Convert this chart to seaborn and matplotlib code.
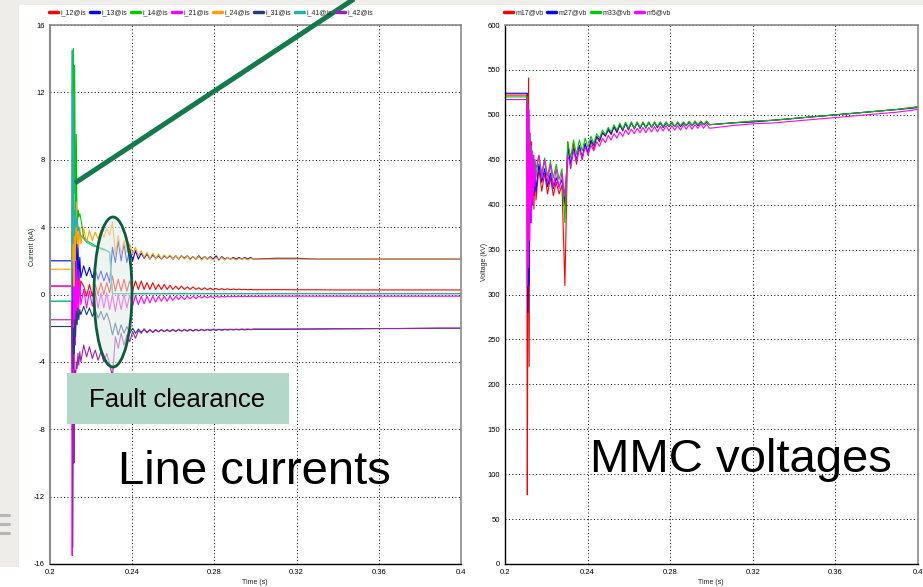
"""
Line currents and MMC voltages during a DC fault, redrawn from a slide.
"""

import matplotlib
matplotlib.use("Agg")
import matplotlib.pyplot as plt
from matplotlib.lines import Line2D
from matplotlib.patches import Ellipse, Rectangle
import pandas as pd
import seaborn as sns

W, H = 923, 587

# shared time base (s): steady state, fault transient, ripple, tail
TIME = [
    0.2, 0.2105, 0.2108, 0.2111, 0.2114, 0.2117, 0.212, 0.2124, 0.2128, 0.2132, 0.2136, 0.214, 0.2145, 0.215,
    0.2164, 0.2178, 0.2192, 0.2206, 0.222, 0.2234, 0.2248, 0.2262, 0.2276, 0.229,
    0.2304, 0.2318, 0.2332, 0.2346, 0.236, 0.2374, 0.2388, 0.2402, 0.2416, 0.243,
    0.2444, 0.2458, 0.2472, 0.2486, 0.25, 0.2514, 0.2528, 0.2542, 0.2556, 0.257,
    0.2584, 0.2598, 0.2612, 0.2626, 0.264, 0.2654, 0.2668, 0.2682, 0.2696, 0.271,
    0.2724, 0.2738, 0.2752, 0.2766, 0.278, 0.2794, 0.2808, 0.2822, 0.2836, 0.285,
    0.2864, 0.2878, 0.2892, 0.2906, 0.292, 0.2934, 0.2948, 0.2962, 0.2976, 0.299,
    0.31, 0.32, 0.33, 0.34, 0.35, 0.36, 0.37, 0.38, 0.39, 0.4,
]

# line currents (kA)
I_12 = [
    0.5, 0.5, -2.0, -5.5, -7.0, 3.5, -3.0, 2.0, -1.5, 1.5, -0.5, 1.2, 0.0, 0.8,
    0.5, -0.1, 0.6, -0.1, 0.6, 0.0, 0.7, 0.0, 0.7, 0.1,
    1.1, 0.2, 0.9, 0.2, 0.9, 0.2, 0.8, 0.2, 0.8, 0.3,
    0.8, 0.3, 0.7, 0.3, 0.7, 0.3, 0.6, 0.3, 0.6, 0.3,
    0.55, 0.3, 0.5, 0.3, 0.5, 0.3, 0.45, 0.3, 0.45, 0.3,
    0.4, 0.28, 0.4, 0.28, 0.38, 0.28, 0.36, 0.28, 0.35, 0.28,
    0.34, 0.28, 0.33, 0.28, 0.32, 0.28, 0.31, 0.28, 0.3, 0.28,
    0.29, 0.28, 0.28, 0.27, 0.27, 0.27, 0.27, 0.27, 0.27, 0.27,
]
I_13 = [
    2.0, 2.0, -1.0, -3.0, 4.5, -2.5, 4.0, -1.0, 3.5, 0.5, 3.0, 0.8, 2.2, 1.0,
    1.7, 1.1, 1.6, 1.0, 1.5, 0.9, 1.4, 0.8, 1.3, 0.7,
    2.8, 1.9, 3.2, 2.0, 3.0, 1.9, 2.7, 2.0, 2.6, 2.1,
    2.45, 2.15, 2.4, 2.1, 2.35, 2.15, 2.3, 2.1, 2.3, 2.15,
    2.3, 2.1, 2.3, 2.1, 2.3, 2.15, 2.3, 2.1, 2.25, 2.1,
    2.3, 2.1, 2.25, 2.1, 2.25, 2.1, 2.3, 2.05, 2.25, 2.1,
    2.2, 2.1, 2.2, 2.1, 2.2, 2.1, 2.2, 2.1, 2.2, 2.1,
    2.15, 2.15, 2.1, 2.1, 2.1, 2.1, 2.1, 2.1, 2.1, 2.1,
]
I_14 = [
    -0.4, -0.4, 3.0, 8.0, 14.6, 6.0, 13.6, 4.0, 9.5, 3.5, 5.0, 4.6, 4.8, 4.5,
    3.4, 3.2, 3.1, 3.0, 2.9, 2.8, 2.75, 2.7, 2.6, 2.5,
    0.05, 0.05, 0.05, 0.05, 0.05, 0.05, 0.05, 0.05, 0.05, 0.05,
    0.05, 0.05, 0.05, 0.05, 0.05, 0.05, 0.05, 0.05, 0.05, 0.05,
    0.05, 0.05, 0.05, 0.05, 0.05, 0.05, 0.05, 0.05, 0.05, 0.05,
    0.05, 0.05, 0.05, 0.05, 0.05, 0.05, 0.05, 0.05, 0.05, 0.05,
    0.05, 0.05, 0.05, 0.05, 0.05, 0.05, 0.05, 0.05, 0.05, 0.05,
    0.05, 0.05, 0.05, 0.05, 0.05, 0.05, 0.05, 0.05, 0.05, 0.05,
]
I_21 = [
    0.5, 0.5, -15.5, -4.0, 1.0, -9.0, 2.5, -3.0, 2.0, -1.5, 1.5, -1.0, 0.8, -0.6,
    0.3, -0.8, 0.2, -0.7, 0.2, -0.8, 0.1, -0.8, 0.1, -0.9,
    0.0, -1.0, 0.0, -0.9, 0.0, -0.8, -0.05, -0.7, -0.05, -0.6,
    -0.1, -0.55, -0.1, -0.5, -0.1, -0.45, -0.1, -0.4, -0.1, -0.4,
    -0.1, -0.35, -0.1, -0.3, -0.1, -0.3, -0.1, -0.25, -0.1, -0.25,
    -0.1, -0.2, -0.1, -0.2, -0.1, -0.18, -0.1, -0.16, -0.1, -0.15,
    -0.1, -0.14, -0.1, -0.13, -0.1, -0.12, -0.1, -0.12, -0.1, -0.11,
    -0.1, -0.1, -0.1, -0.1, -0.1, -0.1, -0.1, -0.1, -0.1, -0.1,
]
I_24 = [
    1.5, 1.5, 12.5, 2.0, 7.3, 0.5, 5.0, 2.0, 5.5, 3.0, 4.2, 2.8, 4.0, 3.0,
    3.9, 3.1, 3.8, 3.2, 3.7, 3.3, 3.8, 3.4, 3.9, 3.5,
    4.3, 2.4, 3.5, 2.4, 3.2, 2.5, 3.0, 2.4, 2.8, 2.3,
    2.6, 2.2, 2.5, 2.1, 2.45, 2.1, 2.4, 2.1, 2.35, 2.15,
    2.35, 2.1, 2.3, 2.1, 2.3, 2.1, 2.3, 2.05, 2.25, 2.1,
    2.25, 2.05, 2.25, 2.1, 2.2, 2.05, 2.2, 2.1, 2.2, 2.05,
    2.2, 2.1, 2.15, 2.05, 2.15, 2.1, 2.15, 2.05, 2.15, 2.1,
    2.1, 2.1, 2.1, 2.1, 2.1, 2.1, 2.1, 2.1, 2.1, 2.1,
]
I_31 = [
    -1.9, -1.9, -3.0, -4.4, -2.0, -3.5, -1.5, -2.5, -1.0, -1.8, -0.8, -1.5, -0.9, -1.2,
    -0.7, -1.2, -0.8, -1.3, -0.9, -1.4, -1.0, -1.5, -1.1, -1.6,
    -2.4, -1.7, -2.4, -1.8, -2.3, -1.9, -2.3, -2.0, -2.3, -2.05,
    -2.25, -2.05, -2.25, -2.1, -2.25, -2.1, -2.2, -2.1, -2.2, -2.1,
    -2.2, -2.08, -2.2, -2.08, -2.18, -2.08, -2.18, -2.08, -2.17, -2.08,
    -2.16, -2.08, -2.15, -2.08, -2.14, -2.08, -2.13, -2.08, -2.12, -2.08,
    -2.11, -2.08, -2.1, -2.08, -2.1, -2.07, -2.1, -2.07, -2.09, -2.07,
    -2.07, -2.06, -2.05, -2.04, -2.03, -2.02, -2.02, -2.01, -2.0, -2.0,
]
I_41 = [
    -0.4, -0.4, 14.5, 3.0, 12.0, 5.9, 3.5, 5.0, 4.0, 4.5, 3.8, 4.0, 3.7, 3.5,
    3.3, 3.1, 3.0, 2.9, 2.85, 2.8, 2.7, 2.65, 2.6, 2.5,
    0.05, 0.05, 0.05, 0.05, 0.05, 0.05, 0.05, 0.05, 0.05, 0.05,
    0.05, 0.05, 0.05, 0.05, 0.05, 0.05, 0.05, 0.05, 0.05, 0.05,
    0.05, 0.05, 0.05, 0.05, 0.05, 0.05, 0.05, 0.05, 0.05, 0.05,
    0.05, 0.05, 0.05, 0.05, 0.05, 0.05, 0.05, 0.05, 0.05, 0.05,
    0.05, 0.05, 0.05, 0.05, 0.05, 0.05, 0.05, 0.05, 0.05, 0.05,
    0.05, 0.05, 0.05, 0.05, 0.05, 0.05, 0.05, 0.05, 0.05, 0.05,
]
I_42 = [
    -1.5, -1.5, -4.0, -15.0, -6.0, -10.0, -4.5, -5.0, -4.0, -4.4, -3.5, -4.2, -3.4, -4.0,
    -3.0, -3.7, -3.1, -3.8, -3.3, -3.9, -3.4, -4.0, -3.5, -4.1,
    -4.9, -2.5, -3.2, -2.3, -3.0, -2.4, -2.8, -2.2, -2.6, -2.15,
    -2.3, -2.05, -2.28, -2.08, -2.25, -2.08, -2.22, -2.08, -2.2, -2.08,
    -2.19, -2.07, -2.18, -2.07, -2.17, -2.07, -2.16, -2.07, -2.15, -2.07,
    -2.14, -2.07, -2.13, -2.07, -2.12, -2.06, -2.11, -2.06, -2.1, -2.06,
    -2.09, -2.06, -2.08, -2.06, -2.08, -2.05, -2.07, -2.05, -2.07, -2.05,
    -2.05, -2.05, -2.04, -2.03, -2.03, -2.02, -2.02, -2.01, -2.0, -2.0,
]

# MMC voltages (kV)
M17 = [
    522, 522, 77, 320, 541, 220, 480, 390, 470, 400, 455, 395, 450, 405,
    440, 415, 435, 412, 430, 410, 425, 412, 422, 310,
    470, 440, 468, 445, 465, 450, 468, 455, 470, 462,
    475, 470, 480, 476, 483, 478, 487, 480, 489, 482,
    491, 483, 492, 484, 492, 485, 492, 485, 492, 486,
    492, 486, 492, 486, 492, 487, 492, 487, 492, 487,
    492, 488, 492, 488, 493, 488, 493, 489, 493, 489,
    491, 493, 494, 496, 498, 500, 502, 504, 506, 509,
]
M27 = [
    524, 524, 524, 280, 500, 310, 470, 380, 460, 400, 450, 410, 445, 415,
    445, 425, 440, 420, 435, 418, 430, 420, 428, 400,
    465, 445, 462, 450, 466, 452, 468, 458, 472, 466,
    476, 472, 480, 477, 484, 479, 487, 481, 489, 483,
    490, 484, 491, 485, 491, 485, 491, 486, 491, 486,
    491, 486, 491, 486, 491, 487, 491, 487, 491, 487,
    491, 488, 492, 488, 492, 488, 492, 489, 492, 489,
    491, 492, 494, 496, 498, 500, 502, 504, 506, 508,
]
M33 = [
    520, 520, 520, 380, 505, 395, 480, 400, 465, 420, 455, 425, 450, 430,
    455, 435, 452, 432, 448, 430, 445, 428, 440, 380,
    470, 452, 472, 456, 472, 460, 474, 464, 476, 468,
    479, 474, 483, 478, 486, 481, 489, 483, 491, 484,
    492, 485, 492, 485, 492, 486, 492, 486, 492, 486,
    492, 487, 492, 487, 492, 487, 492, 487, 492, 488,
    492, 488, 493, 488, 493, 489, 493, 489, 493, 489,
    491, 493, 494, 496, 498, 500, 502, 504, 506, 509,
]
M5 = [
    517, 517, 310, 512, 330, 505, 360, 470, 380, 460, 400, 455, 420, 440,
    455, 430, 450, 425, 445, 420, 440, 418, 435, 410,
    455, 442, 460, 448, 462, 452, 464, 456, 466, 460,
    470, 465, 474, 469, 477, 472, 479, 474, 481, 476,
    483, 478, 484, 479, 485, 480, 486, 480, 486, 481,
    487, 481, 487, 482, 488, 482, 488, 483, 488, 483,
    489, 484, 489, 484, 489, 485, 490, 485, 490, 485,
    488, 490, 491, 493, 495, 497, 499, 501, 503, 506,
]

CURRENTS = {
    "i_12@is": I_12, "i_13@is": I_13, "i_14@is": I_14, "i_21@is": I_21,
    "i_24@is": I_24, "i_31@is": I_31, "i_41@is": I_41, "i_42@is": I_42,
}
VOLTAGES = {"m17@vb": M17, "m27@vb": M27, "m33@vb": M33, "m5@vb": M5}

CUR_COLORS = {
    "i_12@is": "#ff0000", "i_13@is": "#0000ff", "i_14@is": "#00c800",
    "i_21@is": "#ff00ff", "i_24@is": "#ffa000", "i_31@is": "#1f3f7a",
    "i_41@is": "#20b2aa", "i_42@is": "#a020b0",
}
VOLT_COLORS = {"m17@vb": "#ff0000", "m27@vb": "#0000ff",
               "m33@vb": "#00c800", "m5@vb": "#ff00ff"}

X_TICKS = [0.2, 0.24, 0.28, 0.32, 0.36, 0.4]
X_LABELS = ["0.2", "0.24", "0.28", "0.32", "0.36", "0.4"]
CUR_TICKS = [-16, -12, -8, -4, 0, 4, 8, 12, 16]
VOLT_TICKS = [0, 50, 100, 150, 200, 250, 300, 350, 400, 450, 500, 550, 600]

sns.set_style("white")
plt.rcParams["font.family"] = ["Liberation Sans", "DejaVu Sans"]


def long_form(series):
    parts = [pd.DataFrame({"t": TIME, "value": v, "series": k}) for k, v in series.items()]
    return pd.concat(parts, ignore_index=True)


def fx(px):
    return px / W


def fy(py):
    return 1 - py / H


def style_axes(ax, yticks, ylim):
    ax.set_xlim(0.2, 0.4)
    ax.set_ylim(*ylim)
    ax.set_xticks(X_TICKS)
    ax.set_xticklabels(X_LABELS)
    ax.set_yticks(yticks)
    ax.set_yticklabels([str(v) for v in yticks])
    ax.grid(True, color="black", linestyle=(0, (1, 2.5)), linewidth=0.7)
    ax.tick_params(direction="inout", length=4, width=0.7, labelsize=5.5,
                   colors="black", pad=1.5)
    ax.set_xlabel("")
    ax.set_ylabel("")
    for side in ("right", "top"):
        ax.spines[side].set_color("#8a8a8a")
        ax.spines[side].set_linewidth(1.2)
    ax.spines["bottom"].set_color("black")
    ax.spines["bottom"].set_linewidth(1.0)


def add_legend(fig, names, colors, x0):
    handles = [Line2D([], [], color=colors[n], lw=2.5) for n in names]
    fig.legend(handles, names, loc="center left", bbox_to_anchor=(fx(x0), fy(13)),
               ncol=len(names), frameon=False, fontsize=5, handlelength=1.3,
               handletextpad=0.35, columnspacing=0.55, borderaxespad=0,
               borderpad=0)


fig = plt.figure(figsize=(W / 100, H / 100), dpi=100)
fig.patch.set_facecolor("white")

# slide background strips
fig.patches.append(Rectangle((0, fy(567)), fx(19), 567 / H, transform=fig.transFigure,
                             facecolor="#eeede9", edgecolor="none", zorder=0))
fig.patches.append(Rectangle((0, fy(5)), 1, 5 / H, transform=fig.transFigure,
                             facecolor="#eeede9", edgecolor="none", zorder=0))
for py in (515, 524, 533):
    fig.add_artist(Line2D([0, fx(9)], [fy(py), fy(py)], color="#b5b5b5", lw=2.2))

ax1 = fig.add_axes([fx(50), fy(564), fx(461) - fx(50), fy(25) - fy(564)])
ax2 = fig.add_axes([fx(505), fy(564), fx(918) - fx(505), fy(25) - fy(564)])

sns.lineplot(data=long_form(CURRENTS), x="t", y="value", hue="series",
             palette=CUR_COLORS, estimator=None, sort=False, linewidth=0.8,
             legend=False, ax=ax1)
sns.lineplot(data=long_form(VOLTAGES), x="t", y="value", hue="series",
             palette=VOLT_COLORS, estimator=None, sort=False, linewidth=0.8,
             legend=False, ax=ax2)

style_axes(ax1, CUR_TICKS, (-16, 16))
style_axes(ax2, VOLT_TICKS, (0, 600))
ax1.spines["left"].set_color("#8a8a8a")
ax1.spines["left"].set_linewidth(1.5)
ax2.spines["left"].set_color("black")
ax2.spines["left"].set_linewidth(1.0)

add_legend(fig, list(CURRENTS), CUR_COLORS, 49)
add_legend(fig, list(VOLTAGES), VOLT_COLORS, 504)

fig.text(fx(33), fy(247), "Current (kA)", rotation=90, ha="center", va="center", fontsize=5)
fig.text(fx(484), fy(262), "Voltage (kV)", rotation=90, ha="center", va="center", fontsize=5)
fig.text(fx(255), fy(582), "Time (s)", ha="center", va="center", fontsize=5)
fig.text(fx(711), fy(582), "Time (s)", ha="center", va="center", fontsize=5)

# slide annotations
fig.add_artist(Line2D([fx(75), fx(357)], [fy(183), fy(-3)], color="#137a4c",
                      lw=3.6, solid_capstyle="butt"))
fig.add_artist(Ellipse((1.13, (H - 292) / 100), 0.38, 1.50, transform=fig.dpi_scale_trans,
                       facecolor="#dfece6", alpha=0.55, edgecolor="none"))
fig.add_artist(Ellipse((1.13, (H - 292) / 100), 0.38, 1.50, transform=fig.dpi_scale_trans,
                       facecolor="none", edgecolor="#0d5c3c", lw=2.0))
fig.patches.append(Rectangle((fx(67), fy(424)), fx(289) - fx(67), (424 - 373) / H,
                             transform=fig.transFigure, facecolor="#b3d7c9",
                             edgecolor="none", zorder=3))
fig.text(fx(177), fy(400), "Fault clearance", ha="center", va="center",
         fontsize=18.5, color="black", zorder=4)
fig.text(fx(254), fy(472), "Line currents", ha="center", va="center",
         fontsize=34, color="black")
fig.text(fx(741), fy(460), "MMC voltages", ha="center", va="center",
         fontsize=34, color="black")

fig.savefig("out.png", dpi=100)
